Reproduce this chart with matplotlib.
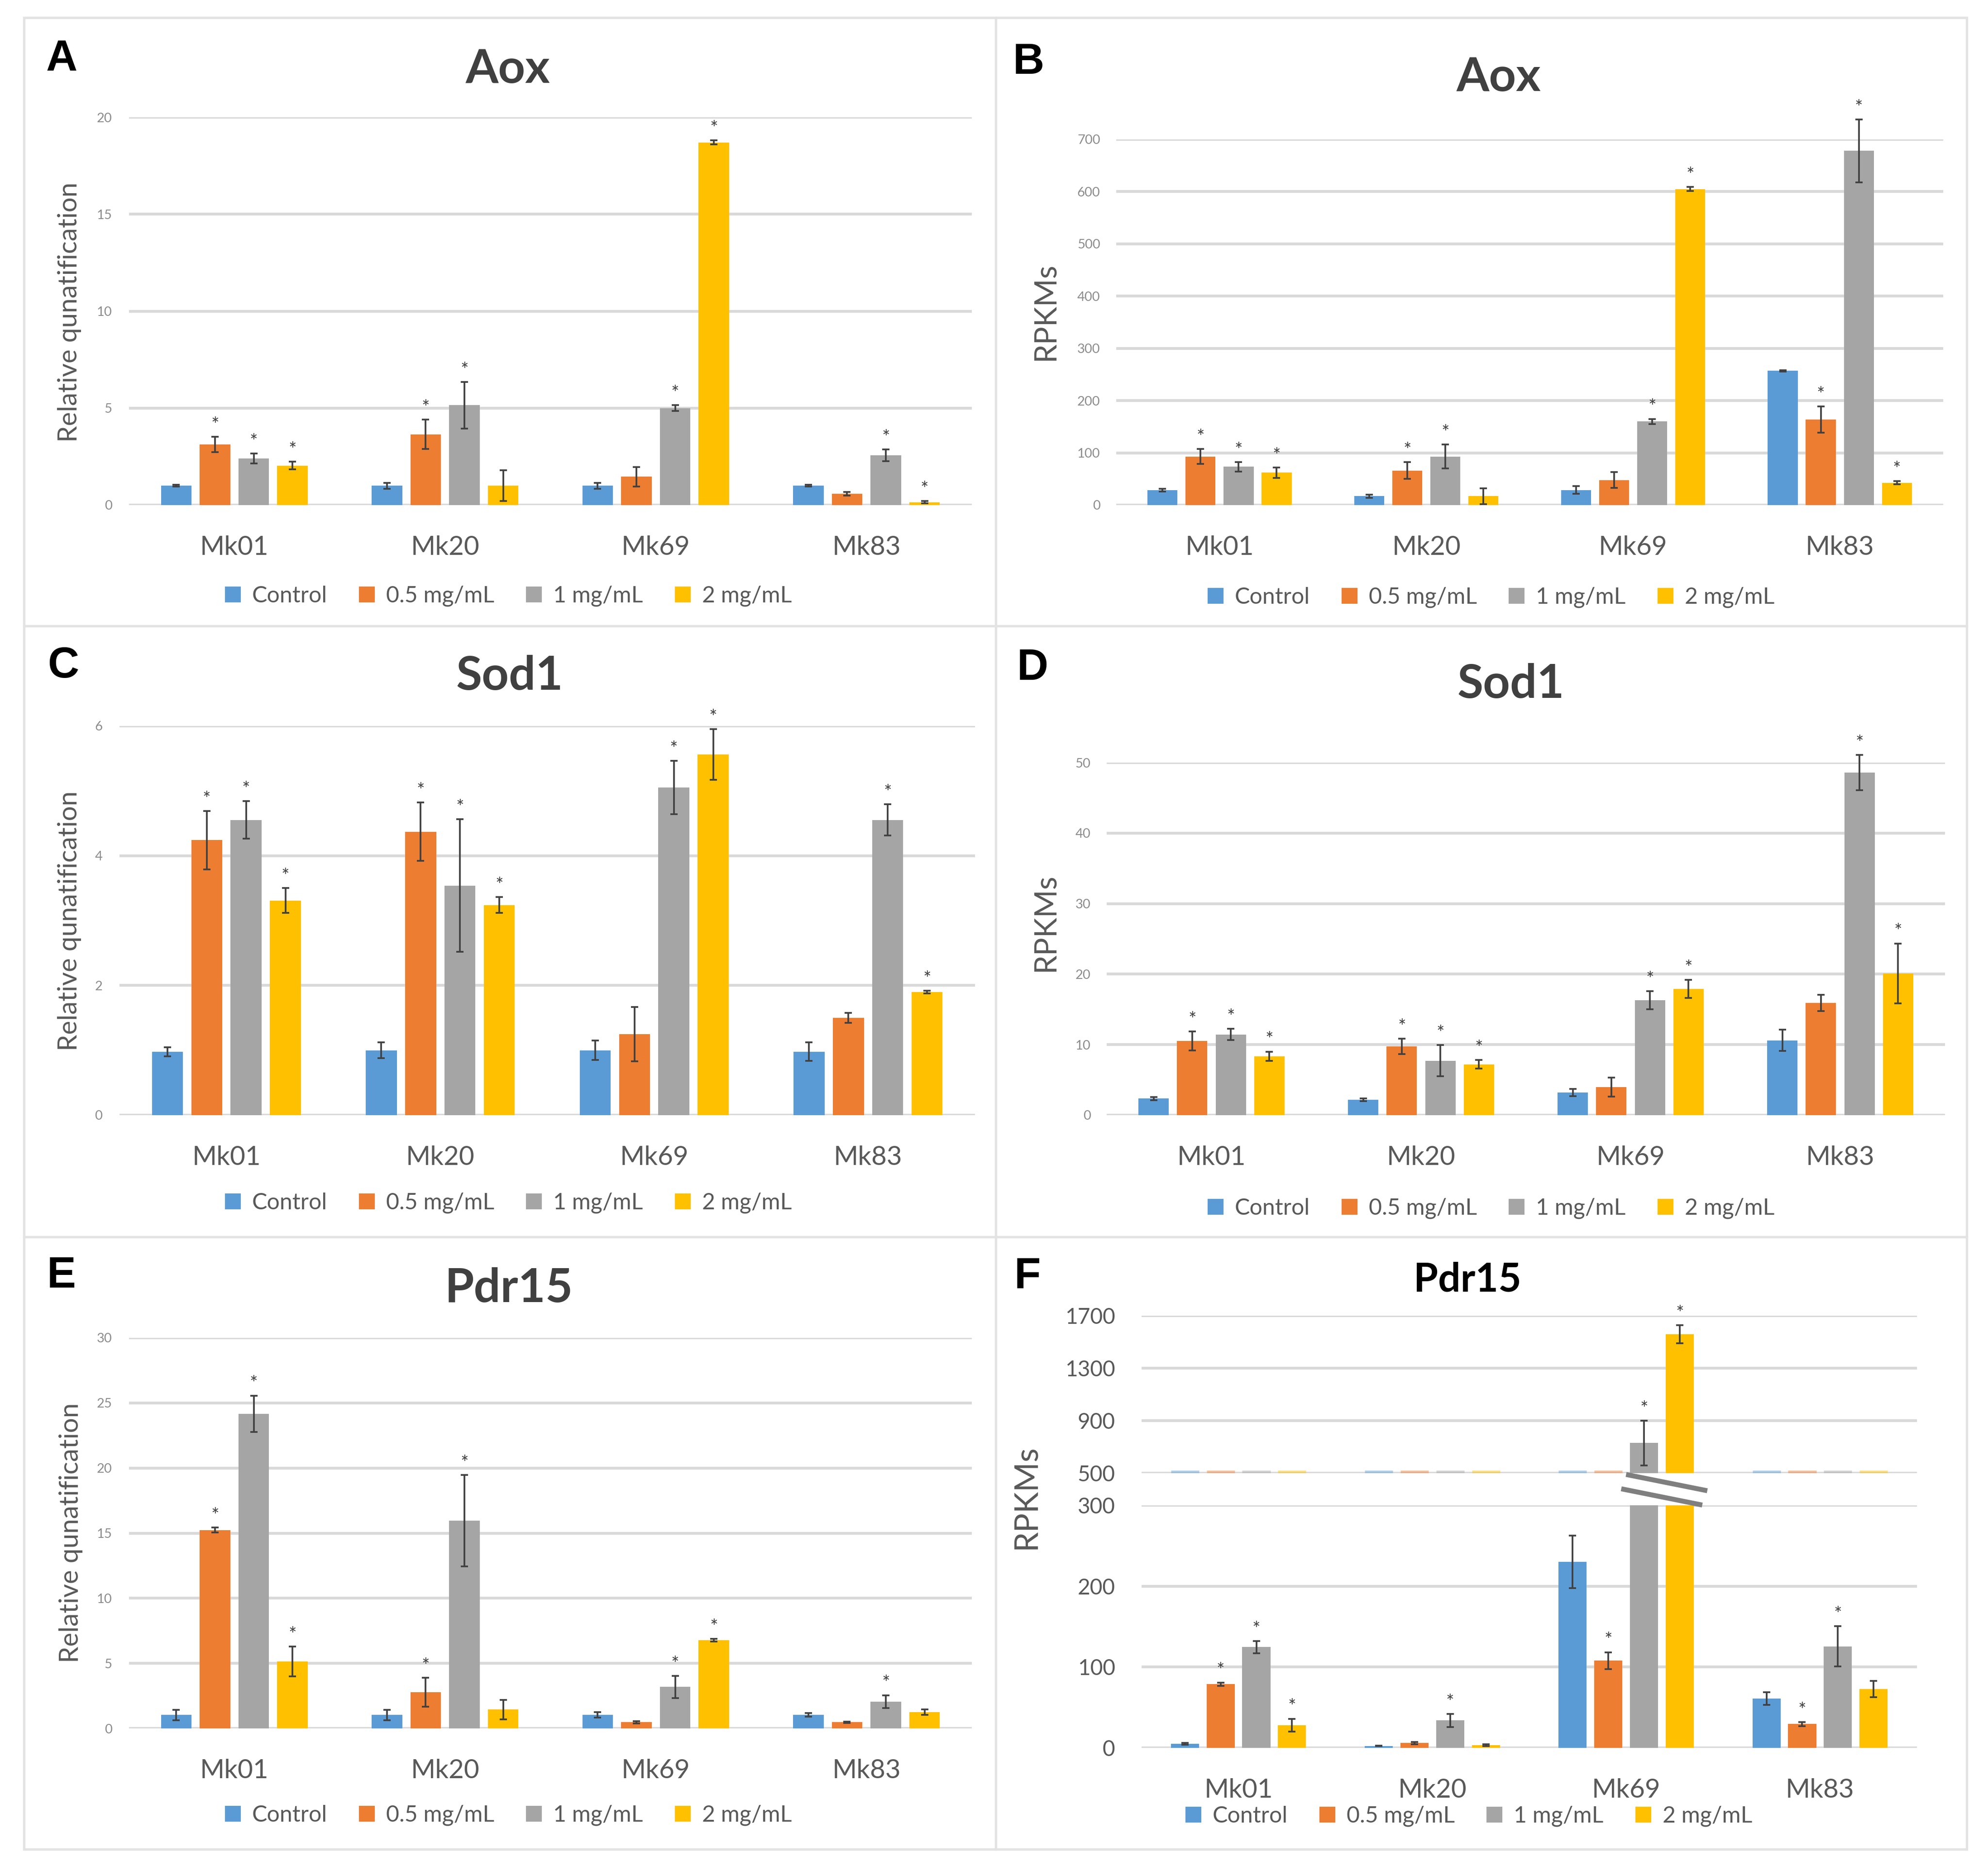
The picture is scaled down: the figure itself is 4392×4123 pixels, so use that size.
import numpy as np
import matplotlib
matplotlib.use('Agg')
import matplotlib.pyplot as plt
from matplotlib.patches import Patch, Polygon, Rectangle
from matplotlib.lines import Line2D

W, H = 4392, 4123
plt.rcParams['font.family'] = ['Lato', 'DejaVu Sans']

groups = ['Mk01', 'Mk20', 'Mk69', 'Mk83']
series = ['Control', '0.5 mg/mL', '1 mg/mL', '2 mg/mL']
colors = ['#5B9BD5', '#ED7D31', '#A5A5A5', '#FFC000']

# A - Aox, relative quantification (rows = series, cols = groups)
aox_rq = [[1.0, 1.0, 1.0, 1.0], [3.12, 3.65, 1.46, 0.58],
          [2.4, 5.15, 5.0, 2.56], [2.04, 1.0, 18.7, 0.15]]
aox_rq_err = [[0.05, 0.15, 0.15, 0.05], [0.4, 0.75, 0.5, 0.1],
              [0.25, 1.2, 0.15, 0.3], [0.2, 0.8, 0.1, 0.05]]
aox_rq_star = [[0, 0, 0, 0], [1, 1, 0, 0], [1, 1, 1, 1], [1, 0, 1, 1]]

# B - Aox, RPKMs
aox_rpkm = [[28.6, 17, 29, 257], [93, 66, 48, 164],
            [73.5, 93, 160, 678], [62, 17, 605, 42.5]]
aox_rpkm_err = [[3, 3, 7, 1], [14, 16, 15, 25], [9, 23, 5, 60], [10, 15, 4, 3]]
aox_rpkm_star = [[0, 0, 0, 0], [1, 1, 0, 1], [1, 1, 1, 1], [1, 0, 1, 1]]

# C - Sod1, relative quantification
sod_rq = [[0.98, 1.0, 1.0, 0.98], [4.24, 4.37, 1.25, 1.5],
          [4.55, 3.54, 5.05, 4.55], [3.31, 3.24, 5.56, 1.9]]
sod_rq_err = [[0.07, 0.12, 0.15, 0.14], [0.45, 0.45, 0.42, 0.08],
              [0.29, 1.02, 0.41, 0.24], [0.19, 0.12, 0.39, 0.02]]
sod_rq_star = [[0, 0, 0, 0], [1, 1, 0, 0], [1, 1, 1, 1], [1, 1, 1, 1]]

# D - Sod1, RPKMs
sod_rpkm = [[2.35, 2.2, 3.2, 10.6], [10.5, 9.74, 4.0, 15.9],
            [11.45, 7.73, 16.3, 48.6], [8.36, 7.2, 17.9, 20.1]]
sod_rpkm_err = [[0.2, 0.2, 0.5, 1.5], [1.35, 1.1, 1.35, 1.15],
                [0.8, 2.2, 1.3, 2.5], [0.65, 0.6, 1.3, 4.25]]
sod_rpkm_star = [[0, 0, 0, 0], [1, 1, 0, 0], [1, 1, 1, 1], [1, 1, 1, 1]]

# E - Pdr15, relative quantification
pdr_rq = [[1.04, 1.04, 1.04, 1.04], [15.24, 2.78, 0.47, 0.47],
          [24.16, 15.96, 3.19, 2.05], [5.14, 1.45, 6.78, 1.26]]
pdr_rq_err = [[0.4, 0.4, 0.2, 0.15], [0.2, 1.1, 0.1, 0.05],
              [1.4, 3.5, 0.85, 0.5], [1.15, 0.75, 0.1, 0.2]]
pdr_rq_star = [[0, 0, 0, 0], [1, 1, 0, 0], [1, 1, 1, 1], [1, 0, 1, 0]]

# F - Pdr15, RPKMs (broken axis)
pdr_rpkm = [[5, 2.5, 229.8, 61], [78.8, 6, 107.8, 29.5],
            [124.6, 34, 730, 125.6], [28, 3.5, 1559, 72.7]]
pdr_rpkm_err = [[1, 0.5, 32.5, 8], [2, 1.5, 10.5, 2.5],
                [7.6, 8, 170, 25], [8, 1, 69, 10]]
pdr_rpkm_star = [[0, 0, 0, 0], [1, 0, 1, 1], [1, 1, 1, 1], [1, 0, 1, 0]]

bar_w = 0.145
pitch = 0.184
offsets = [(i - 1.5) * pitch for i in range(4)]

fig = plt.figure(figsize=(W / 300, H / 300), dpi=300)


def px_axes(l, t, r, b):
    return fig.add_axes([l / W, 1 - b / H, (r - l) / W, (b - t) / H])


def style_axes(ax, ylim, ticks, tsize=7, tcolor='#8c8c8c', pad=9, xlabels=True):
    ax.set_xlim(-0.5, 3.5)
    ax.set_ylim(*ylim)
    ax.set_yticks(ticks)
    for s in ax.spines.values():
        s.set_visible(False)
    ax.yaxis.grid(True, color='#d9d9d9', lw=1.5)
    ax.set_axisbelow(True)
    ax.tick_params(axis='y', length=0, labelsize=tsize, labelcolor=tcolor, pad=pad)
    ax.tick_params(axis='x', length=0, labelsize=14, labelcolor='#595959', pad=16)
    ax.set_xticks(range(4))
    if xlabels:
        ax.set_xticklabels(groups)
    else:
        ax.set_xticklabels([])


def draw_bars(ax, vals, errs, stars, lo=-np.inf, hi=np.inf):
    x = np.arange(4)
    for i in range(4):
        xi = x + offsets[i]
        v = np.array(vals[i], dtype=float)
        e = np.array(errs[i], dtype=float)
        ax.bar(xi, v, width=bar_w, color=colors[i], zorder=2)
        keep = (v >= lo) & (v <= hi)
        if keep.any():
            eb = ax.errorbar(xi[keep], v[keep], yerr=e[keep], fmt='none',
                             ecolor='#404040', elinewidth=0.9, capsize=2,
                             capthick=0.9, zorder=3)
            for art in eb.lines[1] + eb.lines[2]:
                art.set_clip_on(False)
        for j in range(4):
            if stars[i][j] and keep[j]:
                ax.annotate('*', (xi[j], v[j] + e[j]), xytext=(0, 1.5),
                            textcoords='offset points', ha='center', va='bottom',
                            fontsize=10, color='#404040', annotation_clip=False)


def legend(cx, cy):
    handles = [Patch(facecolor=c, edgecolor='none') for c in colors]
    fig.legend(handles, series, loc='center', bbox_to_anchor=(cx / W, 1 - cy / H),
               ncol=4, frameon=False, fontsize=12, labelcolor='#595959',
               handlelength=0.7, handleheight=0.7, handletextpad=0.5,
               columnspacing=1.4)


def title(txt, cx, base, size=25, color='#404040'):
    fig.text(cx / W, 1 - base / H, txt, ha='center', va='baseline',
             fontsize=size, fontweight='bold', color=color)


def letter(txt, cx, base):
    fig.text(cx / W, 1 - base / H, txt, ha='center', va='baseline',
             fontsize=23, fontweight='bold', color='black',
             family=['Liberation Sans', 'DejaVu Sans'])


def ylab(txt, cx, cy, size):
    fig.text(cx / W, 1 - cy / H, txt, rotation=90, ha='center', va='center',
             fontsize=size, color='#595959')


# panel frames
frame_c = '#e3e3e3'
fig.add_artist(Rectangle((53 / W, 1 - 4086 / H), (4345 - 53) / W, (4086 - 39) / H,
                         transform=fig.transFigure, fill=False, ec=frame_c, lw=1.3))
fig.add_artist(Line2D([2200 / W, 2200 / W], [1 - 39 / H, 1 - 4086 / H], color=frame_c, lw=1.3))
for yy in [1383, 2733]:
    fig.add_artist(Line2D([53 / W, 4345 / W], [1 - yy / H, 1 - yy / H], color=frame_c, lw=1.3))

# A
ax = px_axes(285, 259, 2147, 1116)
style_axes(ax, (0, 20), [0, 5, 10, 15, 20])
draw_bars(ax, aox_rq, aox_rq_err, aox_rq_star)
letter('A', 136, 156)
title('Aox', 1122, 183)
ylab('Relative qunatification', 154, 690, 14)
legend(1123, 1317)

# B
ax = px_axes(2466, 308, 4293, 1116)
style_axes(ax, (0, 700), range(0, 701, 100), pad=8.5)
draw_bars(ax, aox_rpkm, aox_rpkm_err, aox_rpkm_star)
letter('B', 2272, 163)
title('Aox', 3311, 201)
ylab('RPKMs', 2309, 688, 16)
legend(3294, 1320)

# C
ax = px_axes(264, 1604, 2154, 2464)
style_axes(ax, (0, 6), [0, 2, 4, 6])
draw_bars(ax, sod_rq, sod_rq_err, sod_rq_star)
letter('C', 140, 1497)
title('Sod1', 1126, 1524)
ylab('Relative qunatification', 154, 2035, 14)
legend(1123, 2658)

# D
ax = px_axes(2445, 1685, 4297, 2464)
style_axes(ax, (0, 50), range(0, 51, 10), pad=8.5)
draw_bars(ax, sod_rpkm, sod_rpkm_err, sod_rpkm_star)
letter('D', 2281, 1502)
title('Sod1', 3338, 1542)
ylab('RPKMs', 2309, 2038, 16)
legend(3294, 2670)

# E
ax = px_axes(285, 2956, 2147, 3819)
style_axes(ax, (0, 30), range(0, 31, 5))
draw_bars(ax, pdr_rq, pdr_rq_err, pdr_rq_star)
letter('E', 136, 2845)
title('Pdr15', 1124, 2877)
ylab('Relative qunatification', 157, 3387, 14)
legend(1123, 4011)

# F - broken axis
axu = px_axes(2522, 2907, 4235, 3255)
style_axes(axu, (500, 1700), [500, 900, 1300, 1700], tsize=11.5, tcolor='#595959',
           pad=14, xlabels=False)
draw_bars(axu, pdr_rpkm, pdr_rpkm_err, pdr_rpkm_star, lo=500)
# faded stubs on the 500 line for bars that stay below the break
for i in range(4):
    for j in range(4):
        if pdr_rpkm[i][j] < 500:
            xc = j + offsets[i]
            axu.hlines(500, xc - bar_w / 2, xc + bar_w / 2, color=colors[i],
                       alpha=0.45, lw=3, zorder=2)

axl = px_axes(2522, 3326, 4235, 3862)
style_axes(axl, (0, 300), [0, 100, 200, 300], tsize=11.5, tcolor='#595959', pad=14)
draw_bars(axl, pdr_rpkm, pdr_rpkm_err, pdr_rpkm_star, hi=300)

# break mark across the Mk69 high bars
xg = 2 + offsets[2]
xy = 2 + offsets[3]
x0, x1 = xg - 0.105, xy + 0.13
brk = axl.get_xaxis_transform()
axl.add_patch(Polygon([[x0 + 0.025, 1.125], [x1, 1.062], [x1 - 0.026, 1.003], [x0, 1.066]],
                      closed=True, fc='white', ec='none', transform=brk,
                      clip_on=False, zorder=5))
axl.add_line(Line2D([x0 + 0.025, x1], [1.125, 1.062], color='#7f7f7f', lw=2.6,
                    transform=brk, clip_on=False, zorder=6))
axl.add_line(Line2D([x0, x1 - 0.026], [1.066, 1.003], color='#7f7f7f', lw=2.6,
                    transform=brk, clip_on=False, zorder=6))

letter('F', 2270, 2845)
title('Pdr15', 3242, 2854, size=21, color='black')
ylab('RPKMs', 2267, 3308, 17)
legend(3245, 4013)

fig.savefig('out.png', dpi=300)
